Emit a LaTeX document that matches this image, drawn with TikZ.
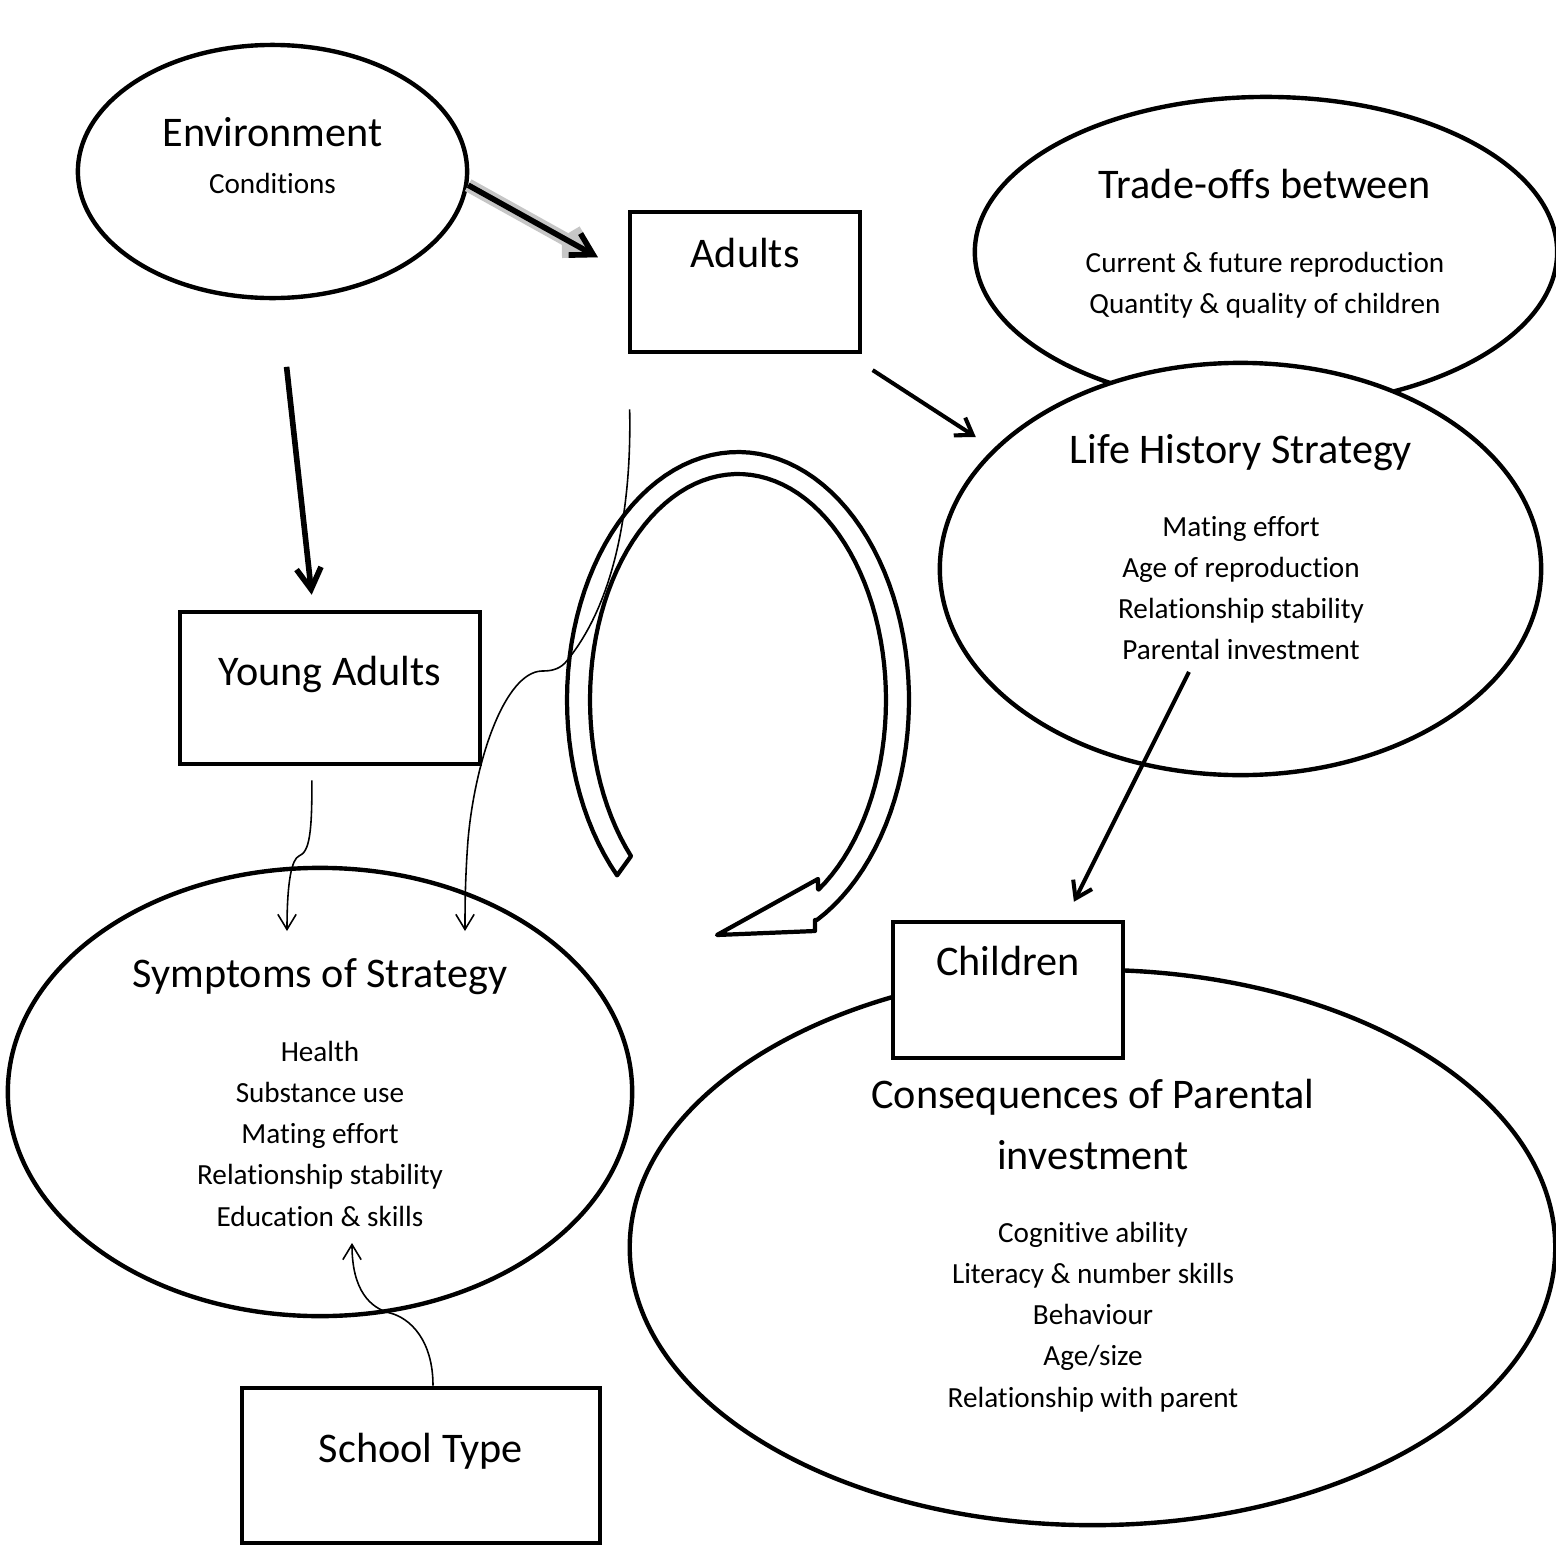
\documentclass[tikz,border=0pt]{standalone}
\usepackage{fontspec}
\setmainfont[Ligatures=NoCommon]{Carlito}
\usetikzlibrary{arrows.meta,shapes.geometric,positioning}

\begin{document}
\begin{tikzpicture}[
    x=0.01cm, y=-0.01cm,
    blob/.style={ellipse, draw, line width=1.25pt, fill=white, inner sep=0pt},
    box/.style={rectangle, draw, line width=1.3pt, fill=white, inner sep=0pt},
    heading/.style={font=\fontsize{12}{14}\selectfont, anchor=base, inner sep=0pt},
    entry/.style={font=\fontsize{8.3}{10}\selectfont, anchor=base, inner sep=0pt},
    arrow/.style={-{Straight Barb[length=6pt,width=7pt]}, line width=1.6pt},
    halo/.style={-{Straight Barb[length=6pt,width=7pt]}, line width=3.8pt, draw=gray!45},
    slim arrow/.style={-{Straight Barb[length=4.5pt,width=6pt]}, line width=1.15pt},
    fine arrow/.style={-{Straight Barb[length=4.3pt,width=5.2pt]}, line width=0.45pt},
    band/.style={line width=1.2pt, line join=round}
]
    \useasboundingbox (0,0) rectangle (1556,1545);

    % ellipses and boxes
    \node[blob, minimum width=3.89cm, minimum height=2.53cm] (env) at (272.5,171.5) {};
    \node[blob, minimum width=5.82cm, minimum height=3.1cm] (trade) at (1266,252) {};
    \node[blob, minimum width=6.01cm, minimum height=4.12cm] (lhs) at (1240.5,569) {};
    \node[blob, minimum width=6.24cm, minimum height=4.48cm] (sym) at (320,1092) {};
    \node[blob, minimum width=9.25cm, minimum height=5.55cm] (cons) at (1092.5,1247.5) {};
    \node[box, minimum width=2.3cm, minimum height=1.4cm] (adults) at (745,282) {};
    \node[box, minimum width=3cm, minimum height=1.52cm] (young) at (330,688) {};
    \node[box, minimum width=2.3cm, minimum height=1.36cm] (child) at (1008,990) {};
    \node[box, minimum width=3.58cm, minimum height=1.55cm] (school) at (421,1465.5) {};

    % texts
    \node[heading] (env-t) at (272.5,146.5) {Environment};
    \node[entry] (env-s) at (272.5,193) {Conditions};
    \node[heading] (adults-t) at (745,267) {Adults};
    \node[heading] (trade-t) at (1265,198) {Trade-offs between};
    \node[entry] (trade-1) at (1265,272) {Current \& future reproduction};
    \node[entry] (trade-2) at (1265,313) {Quantity \& quality of children};
    \node[heading] (lhs-t) at (1241,463) {Life History Strategy};
    \foreach \txt [count=\i] in {Mating effort, Age of reproduction, Relationship stability, Parental investment}
        \node[entry] (lhs-\i) at (1241,{536+41*(\i-1)}) {\txt};
    \node[heading] (young-t) at (330,685) {Young Adults};
    \node[heading] (sym-t) at (320,987) {Symptoms of Strategy};
    \foreach \txt [count=\i] in {Health, Substance use, Mating effort, Relationship stability, Education \& skills}
        \node[entry] (sym-\i) at (320,{1061+41.25*(\i-1)}) {\txt};
    \node[heading] (child-t) at (1008,975.5) {Children};
    \node[heading] (cons-t1) at (1093,1108) {Consequences of Parental};
    \node[heading] (cons-t2) at (1093,1169) {investment};
    \foreach \txt [count=\i] in {Cognitive ability, Literacy \& number skills, Behaviour, Age/size, Relationship with parent}
        \node[entry] (cons-\i) at (1093,{1242+41.25*(\i-1)}) {\txt};
    \node[heading] (school-t) at (421,1462) {School Type};

    % circular arrow
    \draw[band] plot[domain=135:422.5, samples=90] ({738+171*cos(\x)}, {700+248*sin(\x)})
        -- (815,920) -- (815,931) -- (717,935) -- (818,879) -- (818,889)
        -- plot[domain=417:136.3, samples=90] ({738+148*cos(\x)}, {700+226*sin(\x)}) -- cycle;

    % arrows
    \draw[halo, shorten >=0.34cm] (env.-4) -- (adults.176);
    \draw[arrow, shorten >=0.34cm] (env.-4) -- (adults.176);
    \draw[arrow, shorten <=0.67cm, shorten >=0.15cm] (env.-87) -- (young.102);
    \draw[slim arrow, shorten <=0.29cm, shorten >=0.21cm] (adults.-35) -- (lhs.154);
    \draw[slim arrow, shorten <=1.15cm, shorten >=0.2cm] (lhs.center) -- (child.51);

    \coordinate (sym-in1) at (287,931);
    \coordinate (sym-in2) at (465,931);
    \coordinate (sym-in3) at (352,1243);
    \draw[fine arrow] ([yshift=-0.14cm]young.-103) .. controls (312,830) and (310,852) .. (299,856)
        .. controls (292,859) and (287,880) .. (sym-in1);
    \draw[fine arrow] ([shift={(2,55)}]adults.south west) .. controls (632,520) and (610,610) .. (565,663)
        .. controls (558,670) and (550,671) .. (542,671)
        .. controls (505,672) and (475,760) .. (468,840)
        .. controls (465,880) and (465,910) .. (sym-in2);
    \draw[fine arrow] ([xshift=0.12cm]school.north) .. controls (433,1340) and (410,1318) .. (390,1313)
        .. controls (370,1308) and (352,1290) .. (sym-in3);
\end{tikzpicture}
\end{document}
